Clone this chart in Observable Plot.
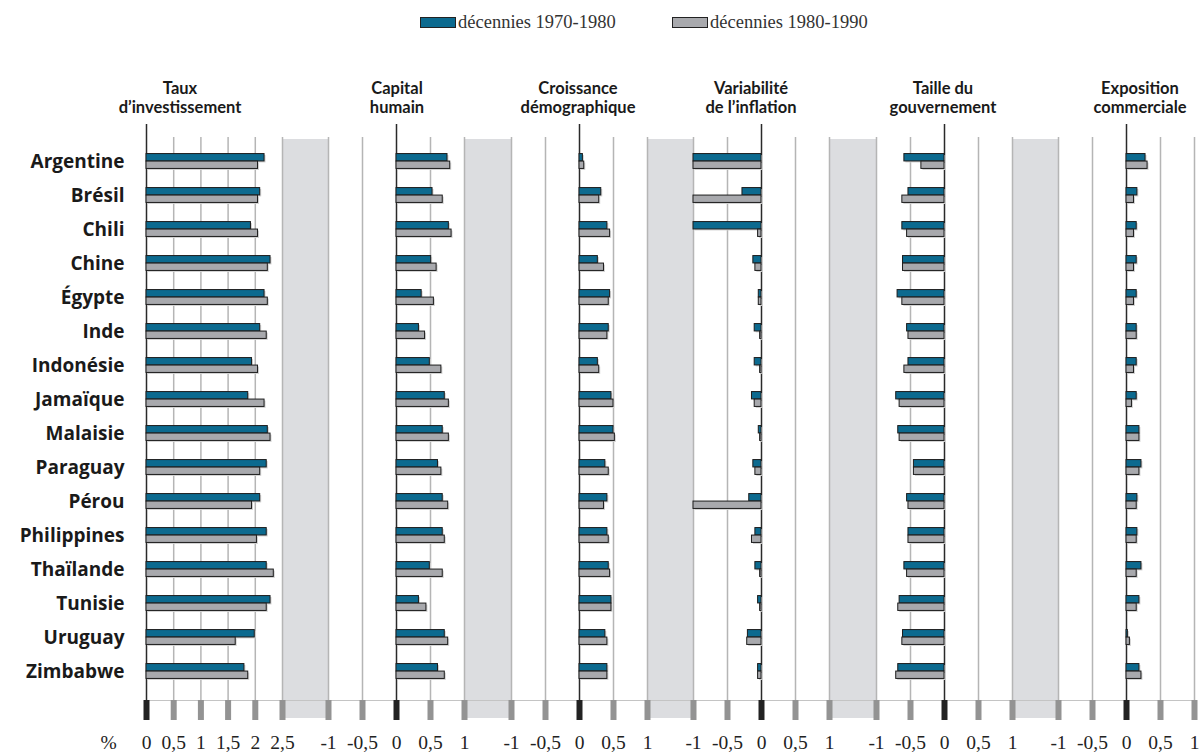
<!DOCTYPE html>
<html>
<head>
<meta charset="utf-8">
<script src="https://cdn.jsdelivr.net/npm/d3@7"></script>
<script src="https://cdn.jsdelivr.net/npm/@observablehq/plot@0.6"></script>
<style>
  html, body { margin: 0; padding: 0; background: #fff; }
  #root { position: relative; width: 1200px; height: 756px; overflow: hidden; }
  .abs { position: absolute; }
  .band { position: absolute; background: #dcdde0; }
  .title { position: absolute; transform: translateX(-50%); text-align: center; white-space: nowrap;
           font-family: Lato, "Open Sans", sans-serif; font-weight: 700; font-size: 16.5px; line-height: 19px; color: #1a1a1a; }
  .legend { position: absolute; top: 12px; font-family: "Liberation Serif", "DejaVu Serif", serif; font-size: 18.5px; color: #333; white-space: nowrap; }
  .sw { display: inline-block; width: 34px; height: 9px; border: 1px solid #222; vertical-align: 0px; margin-right: 2px; }
</style>
</head>
<body>
<div id="root"></div>
<script>
// ---- data ----
const countries = ["Argentine","Brésil","Chili","Chine","Égypte","Inde","Indonésie","Jamaïque","Malaisie","Paraguay","Pérou","Philippines","Thaïlande","Tunisie","Uruguay","Zimbabwe"];
const seriesNames = ["décennies 1970-1980", "décennies 1980-1990"];
const panelTitles = [["Taux","d’investissement"],["Capital","humain"],["Croissance","démographique"],["Variabilité","de l’inflation"],["Taille du","gouvernement"],["Exposition","commerciale"]];

const inv7080 = [2.17,2.09,1.92,2.28,2.17,2.09,1.94,1.87,2.23,2.21,2.09,2.21,2.21,2.28,1.99,1.80];
const inv8090 = [2.05,2.05,2.05,2.23,2.23,2.21,2.05,2.17,2.28,2.09,1.94,2.03,2.34,2.21,1.64,1.87];
const cap7080 = [0.75,0.53,0.77,0.51,0.37,0.33,0.49,0.71,0.68,0.61,0.68,0.68,0.49,0.33,0.71,0.61];
const cap8090 = [0.79,0.68,0.81,0.59,0.55,0.42,0.66,0.77,0.77,0.66,0.76,0.71,0.68,0.44,0.76,0.71];
const pop7080 = [0.05,0.32,0.41,0.27,0.45,0.43,0.27,0.47,0.50,0.38,0.41,0.41,0.43,0.47,0.38,0.41];
const pop8090 = [0.07,0.29,0.45,0.36,0.43,0.41,0.29,0.50,0.52,0.43,0.36,0.43,0.45,0.47,0.41,0.41];
const infl7080 = [-1,-0.28,-1,-0.12,-0.04,-0.10,-0.10,-0.14,-0.04,-0.12,-0.18,-0.09,-0.09,-0.05,-0.20,-0.05];
const infl8090 = [-1,-1,-0.05,-0.09,-0.04,-0.02,-0.02,-0.10,-0.02,-0.09,-1,-0.14,-0.02,-0.02,-0.21,-0.05];
const gov7080 = [-0.59,-0.53,-0.62,-0.61,-0.69,-0.55,-0.53,-0.71,-0.68,-0.45,-0.55,-0.53,-0.59,-0.66,-0.61,-0.68];
const gov8090 = [-0.34,-0.62,-0.55,-0.61,-0.62,-0.53,-0.59,-0.66,-0.66,-0.45,-0.53,-0.53,-0.55,-0.68,-0.62,-0.71];
const exp7080 = [0.28,0.16,0.15,0.15,0.15,0.15,0.15,0.15,0.19,0.22,0.16,0.16,0.22,0.19,0.02,0.19];
const exp8090 = [0.31,0.11,0.11,0.11,0.11,0.15,0.11,0.08,0.19,0.19,0.15,0.15,0.15,0.15,0.05,0.22];

const ticksInv = [0, 0.5, 1, 1.5, 2, 2.5];
const ticksSym = [-1, -0.5, 0, 0.5, 1];

// ---- layout / style ----
const TEAL = "#0c6a8f", GREY = "#a8a9ad", EDGE = "#1c1c1c";
const panelW = 136, pitch = 182.4, firstLeft = 146;
const svgTop = 120, H = 636, mTop = 22.9, innerH = 546.1;
const mBottom = H - mTop - innerH;
const step = innerH / countries.length;
const barH = 7.5;
const fmt = d => String(d).replace(".", ",");
const titleCenters = [180, 397, 578, 751, 943, 1140];
const serif = "'Liberation Serif', 'DejaVu Serif', serif";

const panels = [
  {a: inv7080, b: inv8090, domain: [0, 2.5], ticks: ticksInv},
  {a: cap7080, b: cap8090, domain: [-1, 1], ticks: ticksSym},
  {a: pop7080, b: pop8090, domain: [-1, 1], ticks: ticksSym},
  {a: infl7080, b: infl8090, domain: [-1, 1], ticks: ticksSym},
  {a: gov7080, b: gov8090, domain: [-1, 1], ticks: ticksSym},
  {a: exp7080, b: exp8090, domain: [-1, 1], ticks: ticksSym}
];

const root = document.getElementById("root");

// grey separator bands
for (let i = 0; i < panels.length - 1; i++) {
  const b = document.createElement("div");
  b.className = "band";
  const l = firstLeft + pitch * i + panelW;
  b.style.left = l + "px";
  b.style.width = (pitch - panelW) + "px";
  b.style.top = "139px";
  b.style.height = (718 - 139) + "px";
  root.appendChild(b);
}
// baseline under grid
const base = document.createElement("div");
base.className = "abs";
base.style.cssText = `left:${firstLeft}px;top:700px;width:${pitch * 5 + panelW}px;height:1px;background:#c4c4c4;`;
root.appendChild(base);

// legend
const legendX = [420, 672];
[TEAL, GREY].forEach((c, i) => {
  const d = document.createElement("div");
  d.className = "legend";
  d.style.left = legendX[i] + "px";
  d.innerHTML = `<span class="sw" style="background:${c}"></span>${seriesNames[i]}`;
  root.appendChild(d);
});

// titles
panelTitles.forEach((t, i) => {
  const d = document.createElement("div");
  d.className = "title";
  d.style.left = titleCenters[i] + "px";
  d.style.top = "79px";
  d.innerHTML = t.join("<br>");
  root.appendChild(d);
});

// panels
panels.forEach((p, i) => {
  const rows = countries.map((c, k) => ({country: c, a: p.a[k], b: p.b[k]}));
  const ml = i === 0 ? firstLeft : 0;
  const left = firstLeft + pitch * i - ml;
  const grid = p.ticks.filter(t => t !== 0);
  const tickTop = 700 - svgTop - mTop;
  const tickBottom = -(720 - (svgTop + mTop + innerH));
  const marks = [
    Plot.ruleX(grid, {x: d => d, stroke: "#b5b5b5", strokeWidth: 1.5, insetTop: -6, insetBottom: -11}),
    Plot.ruleX([0], {x: d => d, stroke: "#2a2a2a", strokeWidth: 1.5, insetTop: -19, insetBottom: -11}),
    // soft shadows
    Plot.barX(rows, {y: "country", x1: 0, x2: "a", fill: "#d2d2d2", dx: 1.5, dy: 1.5, insetTop: step / 2 - barH, insetBottom: step / 2}),
    Plot.barX(rows, {y: "country", x1: 0, x2: "b", fill: "#d2d2d2", dx: 1.5, dy: 1.5, insetTop: step / 2, insetBottom: step / 2 - barH}),
    Plot.barX(rows, {y: "country", x1: 0, x2: "a", fill: TEAL, stroke: EDGE, strokeWidth: 1, insetTop: step / 2 - barH, insetBottom: step / 2}),
    Plot.barX(rows, {y: "country", x1: 0, x2: "b", fill: GREY, stroke: EDGE, strokeWidth: 1, insetTop: step / 2, insetBottom: step / 2 - barH}),
    // bottom tick blocks
    Plot.ruleX(grid, {x: d => d, stroke: "#939393", strokeWidth: 6, insetTop: tickTop, insetBottom: tickBottom}),
    Plot.ruleX([0], {x: d => d, stroke: "#222", strokeWidth: 6, insetTop: tickTop, insetBottom: tickBottom}),
    Plot.text(p.ticks, {x: d => d, text: fmt, frameAnchor: "bottom", dy: 59, fontSize: 19.5, fontFamily: serif, fill: "#222"})
  ];
  if (i === 0) {
    marks.push(Plot.text(countries, {y: d => d, text: d => d, frameAnchor: "left", dx: -22, textAnchor: "end",
      fontSize: 19, fontWeight: 700, fontFamily: "'Open Sans', Lato, sans-serif", fill: "#1a1a1a"}));
    marks.push(Plot.text(["%"], {text: d => d, frameAnchor: "bottom-left", dx: -46, dy: 59, fontSize: 19.5, fontFamily: serif, fill: "#222"}));
  }
  const chart = Plot.plot({
    width: ml + panelW,
    height: H,
    marginLeft: ml, marginRight: 0, marginTop: mTop, marginBottom: mBottom,
    style: {background: "transparent", overflow: "visible"},
    x: {domain: p.domain, axis: null},
    y: {domain: countries, type: "band", padding: 0, axis: null},
    marks
  });
  const wrap = document.createElement("div");
  wrap.className = "abs";
  wrap.style.left = left + "px";
  wrap.style.top = svgTop + "px";
  wrap.style.width = (ml + panelW) + "px";
  wrap.appendChild(chart);
  root.appendChild(wrap);
});
</script>
</body>
</html>
